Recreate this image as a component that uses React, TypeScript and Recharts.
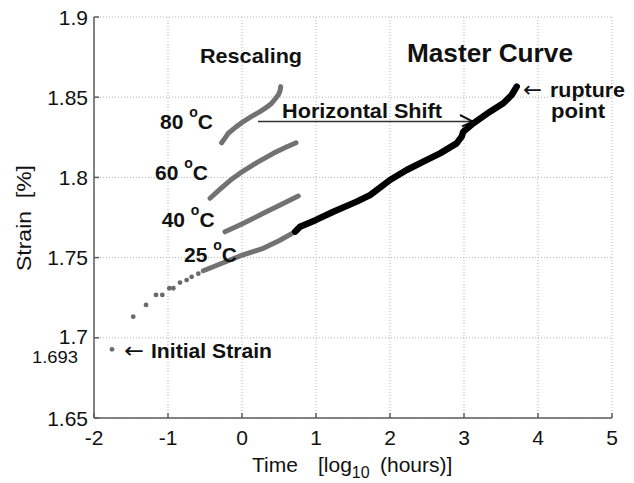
import React from "react";
import {
  CartesianGrid,
  ReferenceDot,
  ReferenceLine,
  Scatter,
  ScatterChart,
  XAxis,
  YAxis,
} from "recharts";

// log10(hours) vs strain [%]
const xTicks = [-2, -1, 0, 1, 2, 3, 4, 5];
const yTicks = [1.65, 1.7, 1.75, 1.8, 1.85, 1.9];

const early25C = [
  [-1.757, 1.6928], [-1.47, 1.7132], [-1.297, 1.7205], [-1.162, 1.7267],
  [-1.077, 1.7267], [-0.982, 1.7309], [-0.928, 1.7309], [-0.838, 1.7344],
  [-0.748, 1.736], [-0.68, 1.738], [-0.59, 1.74],
];
const dense25C = [
  [-0.523, 1.7418], [-0.162, 1.7485], [-0.027, 1.751], [0.288, 1.7558],
  [0.5, 1.7605], [0.72, 1.7662],
];
const curve40C = [
  [-0.23, 1.7661], [0.0, 1.771], [0.288, 1.7776], [0.55, 1.7835], [0.761, 1.7884],
];
const curve60C = [
  [-0.432, 1.787], [-0.3, 1.7925], [-0.15, 1.7985], [-0.027, 1.8026], [0.2, 1.8092],
  [0.423, 1.815], [0.6, 1.819], [0.73, 1.8216],
];
const curve80C = [
  [-0.275, 1.8216], [-0.23, 1.8245], [-0.185, 1.8275], [-0.08, 1.8315],
  [0.018, 1.8348], [0.13, 1.838], [0.243, 1.841], [0.33, 1.8436],
  [0.401, 1.8462], [0.45, 1.849], [0.49, 1.8514], [0.515, 1.854], [0.523, 1.8566],
];
const masterCurve = [
  [0.72, 1.7662], [0.784, 1.7693], [1.0, 1.7735], [1.234, 1.7786],
  [1.55, 1.7849], [1.73, 1.789], [1.82, 1.7921], [2.0, 1.7984],
  [2.225, 1.8046], [2.45, 1.8098], [2.676, 1.815], [2.9, 1.8212],
  [2.968, 1.8254], [2.99, 1.8285], [3.126, 1.8337], [3.351, 1.841],
  [3.531, 1.8462], [3.644, 1.8514], [3.712, 1.8566],
];

const FONT = "'Liberation Sans', Arial, sans-serif";
const GRAY = "#727272";

const pts = (a: number[][]) => a.map(([x, y]) => ({ x, y }));
const noShape = () => <g />;

type NoteOpts = {
  anchor?: "start" | "middle" | "end";
  size?: number;
  weight?: string;
  dx?: number;
  dy?: number;
  len?: number;
  font?: string;
};

const note =
  (text: React.ReactNode, opts: NoteOpts = {}) =>
  (p: any) => (
    <text
      x={p.cx + (opts.dx ?? 0)}
      y={p.cy + (opts.dy ?? 0)}
      textAnchor={opts.anchor ?? "start"}
      dominantBaseline="central"
      fontFamily={opts.font ?? FONT}
      fontSize={opts.size ?? 21}
      fontWeight={opts.weight ?? "bold"}
      fill="#111"
      textLength={opts.len}
      lengthAdjust={opts.len ? "spacingAndGlyphs" : undefined}
    >
      {text}
    </text>
  );

const degree = (t: string) => (
  <>
    <tspan>{t} </tspan>
    <tspan dy={-9} fontSize={14}>o</tspan>
    <tspan dy={9}>C</tspan>
  </>
);

const XTitle = () => (
  <text y={472} fontFamily={FONT} fontSize={21} fill="#111">
    <tspan x={252}>Time</tspan>
    <tspan x={318}>[log</tspan>
    <tspan dy={6} fontSize={16}>10</tspan>
    <tspan dy={-6} x={380}>(hours)]</tspan>
  </text>
);

const YTitle = () => (
  <text
    transform="translate(31,218) rotate(-90)"
    textAnchor="middle"
    fontFamily={FONT}
    fontSize={21}
    fill="#111"
    xmlSpace="preserve"
    textLength={106}
    lengthAdjust="spacingAndGlyphs"
  >
    Strain  [%]
  </text>
);

const YTick = (p: any) => {
  const v = p.payload.value;
  return (
    <text
      x={p.x}
      y={p.y + (v === 1.7 ? -1 : 0)}
      textAnchor="end"
      dominantBaseline="central"
      fontFamily={FONT}
      fontSize={21}
      fill="#111"
    >
      {v}
    </text>
  );
};

const ARROW_FONT = "'DejaVu Sans', sans-serif";

export default function App() {
  return (
    <div style={{ position: "absolute", left: 0, top: 0, background: "#fff" }}>
      <ScatterChart width={634} height={483} margin={{ top: 17, right: 22, bottom: 0, left: 0 }}>
        <CartesianGrid stroke="#b5b5b5" strokeDasharray="1 2" />
        <XAxis
          dataKey="x"
          type="number"
          domain={[-2, 5]}
          ticks={xTicks}
          height={65}
          stroke="#5c5c5c"
          strokeWidth={1.5}
          tickSize={-5}
          tickMargin={17}
          tick={{ fontSize: 21, fill: "#111", fontFamily: FONT }}
          label={{ content: XTitle }}
        />
        <YAxis
          dataKey="y"
          type="number"
          domain={[1.65, 1.9]}
          ticks={yTicks}
          width={94}
          stroke="#5c5c5c"
          strokeWidth={1.5}
          tickSize={-5}
          tickMargin={11}
          tick={YTick}
          label={{ content: YTitle }}
        />
        <XAxis xAxisId="top" orientation="top" type="number" domain={[-2, 5]} ticks={xTicks} height={0} tick={false} tickSize={-5} stroke="#5c5c5c" strokeWidth={1.5} />
        <YAxis yAxisId="right" orientation="right" type="number" domain={[1.65, 1.9]} ticks={yTicks} width={0} tick={false} tickSize={-5} stroke="#5c5c5c" strokeWidth={1.5} />

        <ReferenceLine segment={[{ x: 0.216, y: 1.8348 }, { x: 3.12, y: 1.8348 }]} stroke="#333" strokeWidth={1.5} ifOverflow="visible" />
        <ReferenceLine segment={[{ x: 2.946, y: 1.8389 }, { x: 3.12, y: 1.8348 }]} stroke="#111" strokeWidth={2} ifOverflow="visible" />
        <ReferenceLine segment={[{ x: 2.973, y: 1.8318 }, { x: 3.12, y: 1.8348 }]} stroke="#111" strokeWidth={2} ifOverflow="visible" />

        <Scatter data={pts(early25C)} fill="#6a6a6a" isAnimationActive={false} shape={(p: any) => <circle cx={p.cx} cy={p.cy} r={2.4} fill="#6a6a6a" />} />
        {[dense25C, curve40C, curve60C, curve80C].map((c, i) => (
          <Scatter
            key={i}
            data={pts(c)}
            isAnimationActive={false}
            shape={noShape}
            line={{ stroke: GRAY, strokeWidth: 5, strokeLinecap: "round", strokeLinejoin: "round" }}
          />
        ))}
        <Scatter
          data={pts(masterCurve)}
          isAnimationActive={false}
          shape={noShape}
          line={{ stroke: "#000", strokeWidth: 6.5, strokeLinecap: "round", strokeLinejoin: "round" }}
        />

        <ReferenceDot x={0.122} y={1.8763} r={0} ifOverflow="visible" shape={note("Rescaling", { anchor: "middle", len: 102 })} />
        <ReferenceDot x={3.351} y={1.8775} r={0} ifOverflow="visible" shape={note("Master Curve", { anchor: "middle", size: 25, len: 166 })} />
        <ReferenceDot x={0.541} y={1.842} r={0} ifOverflow="visible" shape={note("Horizontal Shift", { len: 160 })} />
        <ReferenceDot x={-1.108} y={1.8352} r={0} ifOverflow="visible" shape={note(degree("80"))} />
        <ReferenceDot x={-1.176} y={1.8031} r={0} ifOverflow="visible" shape={note(degree("60"))} />
        <ReferenceDot x={-1.086} y={1.7738} r={0} ifOverflow="visible" shape={note(degree("40"))} />
        <ReferenceDot x={-0.784} y={1.7522} r={0} ifOverflow="visible" shape={note(degree("25"))} />
        <ReferenceDot x={3.797} y={1.855} r={0} ifOverflow="visible" shape={note("←", { weight: "normal", font: ARROW_FONT, size: 22, len: 19 })} />
        <ReferenceDot x={4.162} y={1.855} r={0} ifOverflow="visible" shape={note("rupture", { len: 75 })} />
        <ReferenceDot x={4.176} y={1.842} r={0} ifOverflow="visible" shape={note("point", { len: 54 })} />
        <ReferenceDot x={-1.595} y={1.6921} r={0} ifOverflow="visible" shape={note("←", { weight: "normal", font: ARROW_FONT, size: 22, len: 20 })} />
        <ReferenceDot x={-1.23} y={1.6921} r={0} ifOverflow="visible" shape={note("Initial Strain", { len: 121 })} />
        <ReferenceDot x={-2} y={1.693} r={0} ifOverflow="visible" shape={note("1.693", { anchor: "end", weight: "normal", size: 16, dx: -16, dy: 8, len: 46 })} />
      </ScatterChart>
    </div>
  );
}
